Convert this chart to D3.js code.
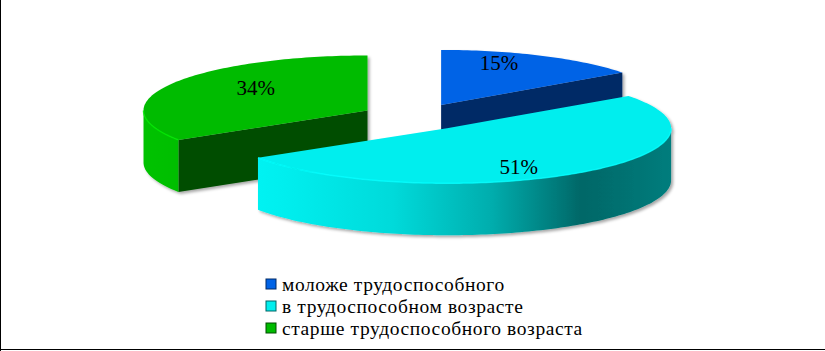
<!DOCTYPE html>
<html>
<head>
<meta charset="utf-8">
<script src="https://cdn.jsdelivr.net/npm/d3@7"></script>
<style>
  html, body { margin: 0; padding: 0; background: #fff; overflow: hidden; }
</style>
</head>
<body>
<div id="chart"></div>
<script>
// data
const categories = ["моложе трудоспособного", "в трудоспособном возрасте", "старше трудоспособного возраста"];
const shares = [15, 51, 34];
const shareLabels = ["15%", "51%", "34%"];
const topColors = ["#0063E6", "#00EEEE", "#00BB00"];
const faceColors = ["#002A66", "#006464", "#004D00"];

const width = 825, height = 351;
const cx = 416, cy = 117, rx = 224, ry = 55, depth = 52, explode = 0.247;
const drawOrder = [0, 2, 1]; // back slices first, front slice last

// unit circle -> ellipse on screen
const xScale = d3.scaleLinear().domain([-1, 1]).range([cx - rx, cx + rx]);
const yScale = d3.scaleLinear().domain([-1, 1]).range([cy - ry, cy + ry]);

const arcs = d3.pie().sort(null).value(d => d)(shares);
arcs.forEach((a, i) => {
    const mid = (a.startAngle + a.endAngle) / 2;
    a.mid = mid;
    a.ox = explode * Math.sin(mid);
    a.oy = -explode * Math.cos(mid);
    a.i = i;
});

const pt = (a, ang, r, z) => [
    xScale(a.ox + r * Math.sin(ang)),
    yScale(a.oy - r * Math.cos(ang)) + z
];
const arcPts = (a, a0, a1, z) => {
    const n = Math.max(2, Math.ceil((a1 - a0) / 0.02));
    return d3.range(n + 1).map(k => pt(a, a0 + (a1 - a0) * k / n, 1, z));
};
const line = d3.line();

const svg = d3.select("#chart").append("svg")
    .attr("width", width)
    .attr("height", height)
    .attr("viewBox", `0 0 ${width} ${height}`);

const defs = svg.append("defs");
defs.append("filter")
    .attr("id", "shadow")
    .attr("x", "-10%").attr("y", "-10%").attr("width", "120%").attr("height", "130%")
    .append("feDropShadow")
    .attr("dx", 2).attr("dy", 2)
    .attr("stdDeviation", 1.5)
    .attr("flood-color", "#000")
    .attr("flood-opacity", 0.35);

arcs.forEach(a => {
    const c = d3.color(topColors[a.i]);
    const g = defs.append("linearGradient")
        .attr("id", `wall${a.i}`)
        .attr("gradientUnits", "userSpaceOnUse")
        .attr("x1", xScale(a.ox - 1)).attr("x2", xScale(a.ox + 1))
        .attr("y1", 0).attr("y2", 0);
    [[0, c.brighter(0.1)], [0.14, c], [0.38, c.darker(0.25)], [0.6, c.darker(0.9)],
     [0.8, c.darker(2.35)], [1, c.darker(1.8)]]
        .forEach(([o, col]) => g.append("stop").attr("offset", o).attr("stop-color", col.formatHex()));
});

const pieG = svg.append("g").attr("class", "pie");

drawOrder.forEach(idx => {
    const a = arcs[idx];
    const g = pieG.append("g").attr("filter", "url(#shadow)");
    const s = a.startAngle, e = a.endAngle;

    // radial cut faces that face the viewer
    const faces = [];
    if (Math.sin(s) < -1e-6) faces.push(s);
    if (Math.sin(e) > 1e-6) faces.push(e);
    faces.forEach(ang => {
        g.append("path")
            .attr("d", line([pt(a, ang, 0, 0), pt(a, ang, 1, 0), pt(a, ang, 1, depth), pt(a, ang, 0, depth)]) + "Z")
            .attr("fill", faceColors[a.i]);
    });

    // outer curved wall (front half only)
    const w0 = Math.max(s, Math.PI / 2), w1 = Math.min(e, 3 * Math.PI / 2);
    if (w1 > w0) {
        const topArc = arcPts(a, w0, w1, 0);
        const botArc = arcPts(a, w0, w1, depth).reverse();
        g.append("path")
            .attr("d", line(topArc.concat(botArc)) + "Z")
            .attr("fill", `url(#wall${a.i})`);
    }

    // top face
    g.append("path")
        .attr("d", line([pt(a, 0, 0, 0)].concat(arcPts(a, s, e, 0))) + "Z")
        .attr("fill", topColors[a.i]);

    // rim highlight
    if (w1 > w0) {
        g.append("path")
            .attr("d", line(arcPts(a, w0, w1, 0)))
            .attr("fill", "none")
            .attr("stroke", d3.color(topColors[a.i]).brighter(0.6).formatHex())
            .attr("stroke-width", 1.5)
            .attr("opacity", 0.8);
    }
});

// percentage labels
pieG.selectAll("text.pct")
    .data(arcs)
    .join("text")
    .attr("class", "pct")
    .attr("x", a => xScale(a.ox + 0.57 * Math.sin(a.mid)))
    .attr("y", a => yScale(a.oy - 0.85 * Math.cos(a.mid)))
    .attr("text-anchor", "middle")
    .attr("dominant-baseline", "central")
    .style("font-family", "'Liberation Serif', 'Times New Roman', serif")
    .style("font-size", "21px")
    .attr("fill", "#000")
    .text(a => shareLabels[a.i]);

// legend
const legendY = d3.scalePoint().domain(categories).range([284, 328]);
const legend = svg.append("g").attr("class", "legend");
const items = legend.selectAll("g")
    .data(categories)
    .join("g")
    .attr("transform", d => `translate(266, ${legendY(d)})`);
items.append("rect")
    .attr("x", 0).attr("y", -5)
    .attr("width", 10).attr("height", 10)
    .attr("fill", (d, i) => topColors[i])
    .attr("stroke", (d, i) => faceColors[i])
    .attr("stroke-width", 1);
items.append("text")
    .attr("x", 16)
    .attr("y", 0)
    .attr("dominant-baseline", "central")
    .style("font-family", "'Liberation Serif', 'Times New Roman', serif")
    .style("font-size", "19.5px")
    .style("letter-spacing", "0.6px")
    .attr("fill", "#000")
    .text(d => d);

// frame edges
svg.append("line").attr("x1", 0.5).attr("x2", 0.5).attr("y1", 0).attr("y2", height)
    .attr("stroke", "#000");
svg.append("line").attr("x1", 0).attr("x2", width).attr("y1", 349.5).attr("y2", 349.5)
    .attr("stroke", "#000");
</script>
</body>
</html>
